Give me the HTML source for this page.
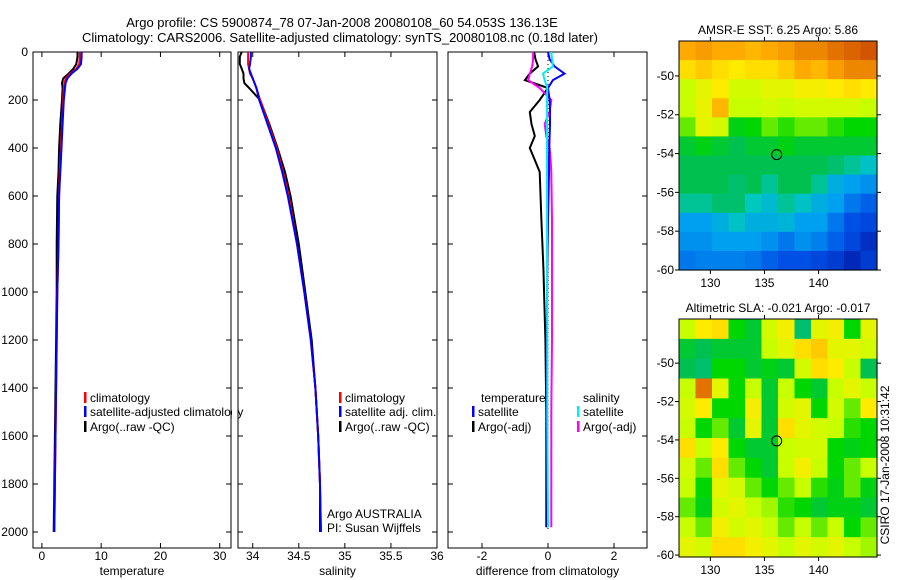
<!DOCTYPE html>
<html><head><meta charset="utf-8"><style>
html,body{margin:0;padding:0;background:#fff;}
svg{display:block;font-family:"Liberation Sans",sans-serif;}
</style></head><body>
<svg id="root" width="900" height="580" viewBox="0 0 900 580">
<text x="342" y="27" font-size="13" text-anchor="middle">Argo profile: CS 5900874_78 07-Jan-2008 20080108_60 54.053S 136.13E</text>
<text x="340" y="42" font-size="13" text-anchor="middle">Climatology: CARS2006. Satellite-adjusted climatology: synTS_20080108.nc (0.18d later)</text>
<g id="g"></g>
<text transform="translate(889,465) rotate(-90)" font-size="12" text-anchor="middle">CSIRO 17-Jan-2008 10:31:42</text>
</svg>
<script>
const depths=[0,20,50,70,90,110,130,150,200,300,400,500,600,800,1000,1200,1400,1600,1800,2000];
const tempClim=[6.4,6.4,6.3,5.8,4.8,4.0,3.8,3.7,3.6,3.4,3.2,3.0,2.9,2.8,2.6,2.5,2.4,2.3,2.2,2.1];
const tempSat=[6.7,6.7,6.6,6.0,5.0,4.3,4.0,3.9,3.7,3.5,3.3,3.1,2.9,2.8,2.6,2.5,2.4,2.3,2.2,2.1];
const tempArgo=[6.0,6.0,5.8,5.3,4.5,3.6,3.4,3.5,3.4,3.1,2.9,2.8,2.6,2.5,2.5,2.4,2.3,2.2,2.1,2.0];
const salClim=[33.95,33.95,33.95,33.96,33.97,34.0,34.02,34.04,34.08,34.17,34.26,34.33,34.39,34.48,34.56,34.63,34.68,34.71,34.73,34.74];
const salSat=[33.98,33.98,33.97,33.96,33.98,34.0,34.02,34.04,34.07,34.16,34.25,34.32,34.38,34.48,34.56,34.63,34.68,34.71,34.73,34.74];
const salArgo=[33.88,33.86,33.86,33.88,33.9,33.9,33.91,33.96,34.08,34.18,34.27,34.35,34.41,34.5,34.57,34.64,34.68,34.71,34.73,34.73];
const diffDepths=[0,30,60,90,117,150,200,250,300,350,400,450,500,700,900,1200,1500,1800,1980];
const diffTempSat=[0,0.05,0.2,0.5,0.15,0,0.05,0.06,0.06,0.05,0.04,0.03,0.03,0,-0.02,-0.03,-0.03,-0.02,-0.02];
const diffTempArgo=[-0.42,-0.38,-0.3,-0.55,-0.7,0,-0.25,-0.55,-0.5,-0.4,-0.55,-0.4,-0.25,-0.2,-0.14,-0.08,-0.05,-0.05,-0.05];
const diffSalSat=[0.1,0.12,0.15,-0.15,-0.1,-0.02,-0.03,-0.03,-0.03,-0.03,-0.03,-0.03,-0.03,-0.03,-0.03,-0.02,-0.02,-0.01,0];
const diffSalArgo=[-0.45,-0.45,-0.48,-0.55,-0.6,-0.25,0.1,0.05,-0.1,-0.05,0.05,0.08,0.1,0.12,0.12,0.12,0.1,0.1,0.1];
const tempTicks=[0,10,20,30];
const salTicks=[34,34.5,35,35.5,36];
const diffTicks=[-2,0,2];
const depthTicks=[0,200,400,600,800,1000,1200,1400,1600,1800,2000];
const latTicks=[-50,-52,-54,-56,-58,-60];
const lonTicks=[130,135,140];
const sstGrid=[
[0.8,0.82,0.8,0.8,0.78,0.8,0.82,0.85,0.85,0.88,0.9,0.92],
[0.72,0.75,0.72,0.7,0.72,0.72,0.75,0.8,0.78,0.82,0.85,0.85],
[0.6,0.65,0.7,0.62,0.62,0.65,0.65,0.68,0.68,0.7,0.72,0.7],
[0.6,0.66,0.78,0.6,0.6,0.62,0.6,0.62,0.62,0.62,0.62,0.6],
[0.55,0.65,0.62,0.48,0.5,0.55,0.52,0.55,0.55,0.52,0.5,0.5],
[0.45,0.48,0.45,0.42,0.45,0.45,0.48,0.45,0.45,0.45,0.45,0.45],
[0.42,0.42,0.42,0.42,0.42,0.42,0.42,0.42,0.42,0.4,0.38,0.35],
[0.42,0.42,0.42,0.4,0.42,0.38,0.42,0.42,0.38,0.32,0.3,0.28],
[0.38,0.38,0.4,0.4,0.36,0.34,0.38,0.35,0.32,0.3,0.25,0.22],
[0.3,0.3,0.32,0.35,0.32,0.32,0.33,0.3,0.3,0.25,0.2,0.18],
[0.28,0.28,0.3,0.3,0.3,0.28,0.25,0.28,0.26,0.22,0.18,0.12],
[0.25,0.26,0.26,0.26,0.25,0.22,0.2,0.2,0.18,0.15,0.1,0.15]];
const slaGrid=[
[0.6,0.7,0.72,0.5,0.45,0.62,0.68,0.4,0.65,0.68,0.5,0.65],
[0.45,0.42,0.45,0.45,0.45,0.6,0.65,0.72,0.75,0.65,0.65,0.62],
[0.42,0.4,0.5,0.5,0.45,0.48,0.45,0.62,0.72,0.7,0.6,0.42],
[0.6,0.88,0.65,0.5,0.6,0.45,0.6,0.5,0.45,0.6,0.65,0.6],
[0.62,0.7,0.5,0.5,0.68,0.45,0.62,0.65,0.5,0.62,0.55,0.7],
[0.6,0.5,0.55,0.45,0.65,0.45,0.72,0.65,0.62,0.6,0.52,0.5],
[0.72,0.6,0.7,0.5,0.45,0.45,0.6,0.62,0.62,0.5,0.48,0.5],
[0.62,0.55,0.72,0.55,0.5,0.45,0.6,0.68,0.6,0.5,0.55,0.6],
[0.6,0.5,0.65,0.62,0.55,0.5,0.55,0.6,0.52,0.48,0.55,0.48],
[0.55,0.48,0.62,0.65,0.6,0.58,0.52,0.5,0.45,0.48,0.48,0.45],
[0.6,0.55,0.68,0.62,0.65,0.6,0.55,0.6,0.55,0.6,0.5,0.55],
[0.65,0.62,0.72,0.72,0.68,0.65,0.6,0.65,0.62,0.65,0.6,0.58]];
const argoLat=-54.053, argoLon=136.13;

const NS="http://www.w3.org/2000/svg";
const G=document.getElementById('g');
function mk(tag,attrs,parent){const e=document.createElementNS(NS,tag);for(const k in attrs)e.setAttribute(k,attrs[k]);(parent||G).appendChild(e);return e;}
const yD=d=>52+d*0.24;
const PT={x0:33,x1:231,v0:-1.5,v1:31.9}, PS={x0:238,x1:437,v0:33.84,v1:36.0}, PD={x0:448,x1:647,v0:-3.03,v1:3.0};
const PTOP=52,PBOT=548;
function sx(p,v){return p.x0+(v-p.v0)/(p.v1-p.v0)*(p.x1-p.x0);}
function panel(p,name,ticks,label,fmt){
  const r=mk('rect',{x:p.x0,y:PTOP,width:p.x1-p.x0,height:PBOT-PTOP,fill:'none',stroke:'#000','stroke-width':1});
  
  
  ticks.forEach(t=>{const x=sx(p,t);
    mk('line',{x1:x,x2:x,y1:PBOT,y2:PBOT-5,stroke:'#000'});mk('line',{x1:x,x2:x,y1:PTOP,y2:PTOP+5,stroke:'#000'});
    const tx=mk('text',{x:x,y:560,'font-size':12,'text-anchor':'middle'});tx.textContent=fmt(t);
    
    });
  depthTicks.forEach(d=>{const y=yD(d);mk('line',{x1:p.x0,x2:p.x0+5,y1:y,y2:y,stroke:'#000'});mk('line',{x1:p.x1,x2:p.x1-5,y1:y,y2:y,stroke:'#000'});});
  const l=mk('text',{x:(p.x0+p.x1)/2,y:575,'font-size':12,'text-anchor':'middle'});l.textContent=label;
  
  
}
panel(PT,'temperature-panel',tempTicks,'temperature',t=>String(t));
panel(PS,'salinity-panel',salTicks,'salinity',t=>String(t));
panel(PD,'difference-panel',diffTicks,'difference from climatology',t=>String(t));
depthTicks.forEach(d=>{const t=mk('text',{x:28,y:yD(d)+4,'font-size':12,'text-anchor':'end'});t.textContent=d;
  
  });
function series(p,ds,vals,color,name,w){
  const pts=ds.map((d,i)=>sx(p,vals[i]).toFixed(1)+','+yD(d).toFixed(1)).join(' ');
  const e=mk('polyline',{points:pts,fill:'none',stroke:color,'stroke-width':w||2});
  
  
}
series(PT,depths,tempArgo,'#000','temp-argo-line');
series(PT,depths,tempClim,'#f00','temp-climatology-line');
series(PT,depths,tempSat,'#00f','temp-satellite-line');
series(PS,depths,salArgo,'#000','sal-argo-line');
series(PS,depths,salClim,'#f00','sal-climatology-line');
series(PS,depths,salSat,'#00f','sal-satellite-line');
mk('line',{x1:sx(PD,0),x2:sx(PD,0),y1:yD(0),y2:yD(2000),stroke:'#000','stroke-dasharray':'1,3'});
series(PD,diffDepths,diffTempArgo,'#000','diff-temp-argo-line');
series(PD,diffDepths,diffSalArgo,'#f0f','diff-sal-argo-line');
series(PD,diffDepths,diffTempSat,'#00f','diff-temp-satellite-line');
series(PD,diffDepths,diffSalSat,'#0ee','diff-sal-satellite-line');
function legend(x,y,color,text,name){
  mk('rect',{x:x,y:y-10,width:2.5,height:11,fill:color});
  const t=mk('text',{x:x+6,y:y,'font-size':12});t.textContent=text;
  
  
}
legend(84,402,'#f00','climatology','legend-temp-climatology');
legend(84,416,'#00f','satellite-adjusted climatology','legend-temp-satellite');
legend(84,431,'#000','Argo(..raw -QC)','legend-temp-argo');
legend(339,402,'#f00','climatology','legend-sal-climatology');
legend(339,416,'#00f','satellite adj. clim.','legend-sal-satellite');
legend(339,431,'#000','Argo(..raw -QC)','legend-sal-argo');
mk('rect',{x:232,y:405,width:5.5,height:14,fill:'#fff'});
let t1=mk('text',{x:481,y:402,'font-size':12});t1.textContent='temperature';


let t2=mk('text',{x:583,y:402,'font-size':12});t2.textContent='salinity';


legend(472,416,'#00f','satellite','legend-diff-temp-satellite');
legend(472,431,'#000','Argo(-adj)','legend-diff-temp-argo');
legend(577,416,'#0ee','satellite','legend-diff-sal-satellite');
legend(577,431,'#f0f','Argo(-adj)','legend-diff-sal-argo');
let a1=mk('text',{x:327,y:518,'font-size':12});a1.textContent='Argo AUSTRALIA';


let a2=mk('text',{x:327,y:532,'font-size':12});a2.textContent='PI: Susan Wijffels';



const stops=[[0,[0,0,140]],[0.2,[0,80,230]],[0.3,[0,160,240]],[0.36,[0,200,190]],[0.41,[0,190,90]],[0.5,[0,215,0]],[0.6,[200,255,0]],[0.7,[255,235,0]],[0.8,[255,170,0]],[0.9,[220,100,0]],[1,[170,30,0]]];
function cmap(v){for(let i=1;i<stops.length;i++){if(v<=stops[i][0]){const a=stops[i-1],b=stops[i];const f=(v-a[0])/(b[0]-a[0]);const c=a[1].map((x,k)=>Math.round(x+(b[1][k]-x)*f));return 'rgb('+c+')';}}return 'rgb(170,30,0)';}
function drawMap(name,grid,M,title){
  const rows=grid.length,cols=grid[0].length,cw=(M.x1-M.x0)/cols,ch=(M.y1-M.y0)/rows;
  grid.forEach((row,r)=>row.forEach((v,c)=>{
    const e=mk('rect',{x:M.x0+c*cw,y:M.y0+r*ch,width:cw+0.6,height:ch+0.6,fill:cmap(v)});
    
    
  }));
  const f=mk('rect',{x:M.x0,y:M.y0,width:M.x1-M.x0,height:M.y1-M.y0,fill:'none',stroke:'#000'});
  
  
  const lx=v=>M.x0+(v-M.lon0)/(M.lon1-M.lon0)*(M.x1-M.x0);
  const ly=v=>M.y0+(v-M.lat0)/(M.lat1-M.lat0)*(M.y1-M.y0);
  latTicks.forEach(l=>{const y=ly(l);mk('line',{x1:M.x0-4,x2:M.x0,y1:y,y2:y,stroke:'#000'});mk('line',{x1:M.x1,x2:M.x1+4,y1:y,y2:y,stroke:'#000'});
    const t=mk('text',{x:M.x0-5,y:y+4,'font-size':12,'text-anchor':'end'});t.textContent=l;
    
    });
  lonTicks.forEach(l=>{const x=lx(l);mk('line',{x1:x,x2:x,y1:M.y1,y2:M.y1+4,stroke:'#000'});mk('line',{x1:x,x2:x,y1:M.y0-4,y2:M.y0,stroke:'#000'});
    const t=mk('text',{x:x,y:M.y1+17,'font-size':12,'text-anchor':'middle'});t.textContent=l;
    
    });
  const c=mk('circle',{cx:lx(argoLon),cy:ly(argoLat),r:5,fill:'none',stroke:'#000','stroke-width':1});
  
  
  const t=mk('text',{x:(M.x0+M.x1)/2,y:M.y0-7,'font-size':12,'text-anchor':'middle'});t.textContent=title;
  
  
}
drawMap('sst-map',sstGrid,{x0:679,x1:877,y0:41,y1:270,lon0:127.1,lon1:145.4,lat0:-48.2,lat1:-60},'AMSR-E SST: 6.25 Argo: 5.86');
drawMap('sla-map',slaGrid,{x0:679,x1:877,y0:319,y1:557,lon0:127.1,lon1:145.4,lat0:-47.7,lat1:-60.1},'Altimetric SLA: -0.021  Argo: -0.017');
</script>
</body></html>
